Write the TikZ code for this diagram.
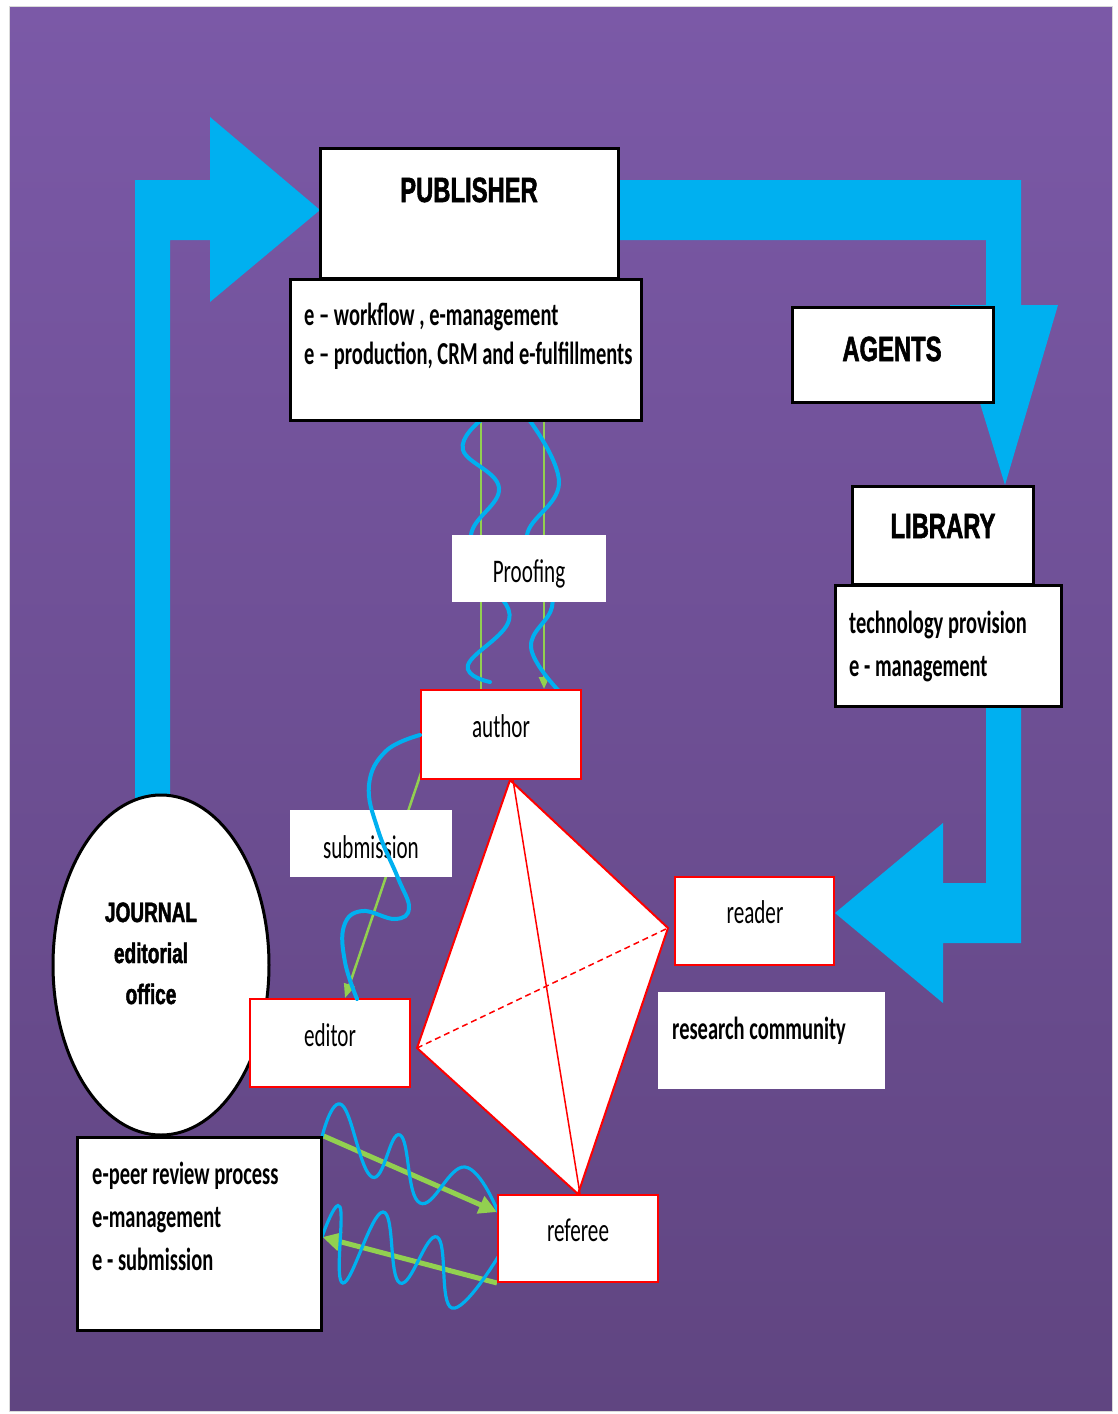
\documentclass[tikz,border=0pt]{standalone}
\usepackage{fontspec}
\setmainfont{Carlito}[FakeStretch=0.64]
\newfontfamily\headfont{Liberation Sans}[FakeStretch=0.68,BoldFeatures={FakeBold=1.6}]
\usetikzlibrary{arrows.meta,calc,shapes.geometric}
\definecolor{bgtop}{RGB}{123,89,167}
\definecolor{bgbot}{RGB}{96,69,129}
\definecolor{cyanb}{RGB}{0,176,240}
\definecolor{greenl}{RGB}{146,208,80}
\definecolor{redb}{RGB}{255,0,0}
\pgfdeclarelayer{bg}
\pgfdeclarelayer{back}
\pgfsetlayers{bg,back,main}
\begin{document}
\begin{tikzpicture}[x=1pt,y=-1pt,
  blackbox/.style={draw=black,line width=3pt,fill=white,inner sep=0pt},
  redbox/.style={draw=redb,line width=2pt,fill=white,inner sep=0pt},
  plainbox/.style={fill=white,inner sep=0pt},
  head/.style={font=\headfont\bfseries\fontsize{35}{40}\selectfont,inner sep=0pt,anchor=base},
  headsm/.style={font=\headfont\bfseries\fontsize{28}{34}\selectfont,inner sep=0pt,anchor=base},
  lab/.style={font=\fontsize{33}{40}\selectfont,inner sep=0pt,anchor=base},
  subtxt/.style={font=\bfseries\fontsize{32}{40}\selectfont,inner sep=0pt,anchor=base west},
  wave/.style={draw=cyanb,line width=4pt,line cap=round},
  wavethin/.style={draw=cyanb,line width=3.2pt,line cap=round},
  gline/.style={draw=greenl,line width=2.5pt},
  gthick/.style={draw=greenl,line width=5pt},
  bluearrow/.style={fill=cyanb}
]
\useasboundingbox (0,0) rectangle (1118,1414);

% ---------- boxes and shapes (main layer) ----------
\node[ellipse,draw=black,line width=3pt,fill=white,inner sep=0pt,
      minimum width=216pt,minimum height=340pt] (jour) at (161,965) {};
\node[headsm] (jt1) at (151,922) {JOURNAL};
\node[headsm] (jt2) at (151,963) {editorial};
\node[headsm] (jt3) at (151,1004) {office};

\node[blackbox,minimum width=298pt,minimum height=130pt] (pub) at (469,213) {};
\node[head] (pubt) at (469,202) {PUBLISHER};
\node[blackbox,minimum width=351pt,minimum height=141pt] (pubsub) at (465.5,349.5) {};
\node[subtxt] (pubs1) at (304,325) {e – workflow , e-management};
\node[subtxt] (pubs2) at (304,364) {e – production, CRM and e-fulfillments};

\node[blackbox,minimum width=201pt,minimum height=95pt] (agents) at (892.5,354.5) {};
\node[head] (agt) at (892,361) {AGENTS};

\node[blackbox,minimum width=181pt,minimum height=98pt] (lib) at (942.5,535) {};
\node[head] (libt) at (943,538) {LIBRARY};
\node[blackbox,minimum width=226pt,minimum height=121pt] (libsub) at (948,645.5) {};
\node[subtxt] (libs1) at (849,633) {technology provision};
\node[subtxt] (libs2) at (849,676) {e - management};

\node[plainbox,minimum width=154pt,minimum height=67pt] (proof) at (529,568.5) {};
\node[lab] (prooft) at (529,582) {Proofing};

\node[redbox,minimum width=160pt,minimum height=89pt] (author) at (501,734.5) {};
\node[lab] (autht) at (501,737) {author};

\node[plainbox,minimum width=162pt,minimum height=67pt] (subm) at (371,843.5) {};
\node[lab] (submt) at (371,858) {submission};

\node[redbox,minimum width=160pt,minimum height=88pt] (editor) at (330,1043) {};
\node[lab] (edt) at (330,1046) {editor};

\node[redbox,minimum width=159pt,minimum height=88pt] (reader) at (754.5,921) {};
\node[lab] (readt) at (755,923) {reader};

\node[plainbox,minimum width=227pt,minimum height=97pt] (rescom) at (771.5,1040.5) {};
\node[subtxt] (rest) at (672,1039) {research community};

\node[redbox,minimum width=160pt,minimum height=87pt] (referee) at (578,1238.5) {};
\node[lab] (reft) at (578,1241) {referee};

\node[blackbox,minimum width=244pt,minimum height=193pt] (eprev) at (199,1233.5) {};
\node[subtxt] (ep1) at (92,1184) {e-peer review process};
\node[subtxt] (ep2) at (92,1227) {e-management};
\node[subtxt] (ep3) at (92,1270) {e - submission};

% helper coordinates
\coordinate (gx1) at (481,0);
\coordinate (gx2) at (544,0);
\coordinate (gx3) at (986,0);
\coordinate (gx4) at (1021,0);
\coordinate (gx5) at (345,0);
\coordinate (gy1) at (0,180);
\coordinate (gy2) at (0,240);
\coordinate (gy3) at (0,1212);
\coordinate (gy4) at (0,1237);
\coordinate (gy5) at (0,735);

% wave over submission box
\draw[wave] plot[smooth,tension=0.7] coordinates {(author.west |- gy5) (386,751) (369,785) (378,830) (398,878) (409,908) (395,919) (362,911) (344,926) (345,962) (357,999)};

% ---------- background ----------
\begin{pgfonlayer}{bg}
\fill[white] (0,0) rectangle (1118,1414);
\shade[top color=bgtop,bottom color=bgbot] (9,6) rectangle (1112,1411);
\draw[black!15,line width=1pt] (9,6) rectangle (1112,1411);
\end{pgfonlayer}

% ---------- arrows, lines, tetrahedron ----------
\begin{pgfonlayer}{back}
\fill[bluearrow] (135,820) -- (135,180) -- (210,180) -- (210,117) -- (320,210)
   -- (210,302) -- (210,240) -- (170,240) -- (170,820) -- cycle;
\fill[bluearrow] (pub.east |- gy1) -- (1021,180) -- (1021,305) -- (1058,305) -- (1005,485)
   -- (950,305) -- (986,305) -- (986,240) -- (pub.east |- gy2) -- cycle;
\fill[bluearrow] (libsub.south -| gx3) -- (986,883) -- (943,883) -- (943,823) -- (835,913)
   -- (943,1003) -- (943,943) -- (1021,943) -- (libsub.south -| gx4) -- cycle;

\draw[gline] (pubsub.south -| gx1) -- (author.north -| gx1);
\draw[gline,-{Triangle[length=12pt,width=10pt]}] (pubsub.south -| gx2) -- (author.north -| gx2);

\draw[wave] plot[smooth,tension=0.7] coordinates {(480,421) (463,450) (499,488) (471,535) (488,580) (509,620) (468,665) (490,682)};
\draw[wave] plot[smooth,tension=0.7] coordinates {(530,421) (559,483) (527,535) (544,575) (552,607) (531,647) (558,690)};

\draw[gline,-{Triangle[length=14pt,width=11pt]}] (422,770) -- (editor.north -| gx5);

% tetrahedron
\fill[white] (510,780) -- (668,928) -- (578,1194) -- (417,1048) -- cycle;
\draw[redb,line width=2pt,line join=miter] (510,780) -- (668,928) -- (578,1194) -- (417,1048) -- cycle;
\draw[redb,line width=1.5pt] (513,780) -- (580,1194);
\draw[redb,line width=1.5pt,dash pattern=on 6pt off 4pt] (417,1048) -- (668,928);

% referee exchanges
\draw[gthick,-{Triangle[length=18pt,width=18pt]}] (eprev.north east) -- (referee.west |- gy3);
\draw[gthick,-{Triangle[length=18pt,width=18pt]}] (referee.south west) -- (eprev.east |- gy4);
\draw[wavethin] plot[smooth,tension=0.75] coordinates {(322,1137) (342,1105) (372,1177) (400,1135) (420,1203) (465,1167) (498,1212)};
\draw[wavethin] plot[smooth,tension=0.75] coordinates {(322,1237) (340,1207) (343,1283) (383,1212) (400,1283) (437,1237) (452,1308) (498,1257)};
\end{pgfonlayer}
\end{tikzpicture}
\end{document}
